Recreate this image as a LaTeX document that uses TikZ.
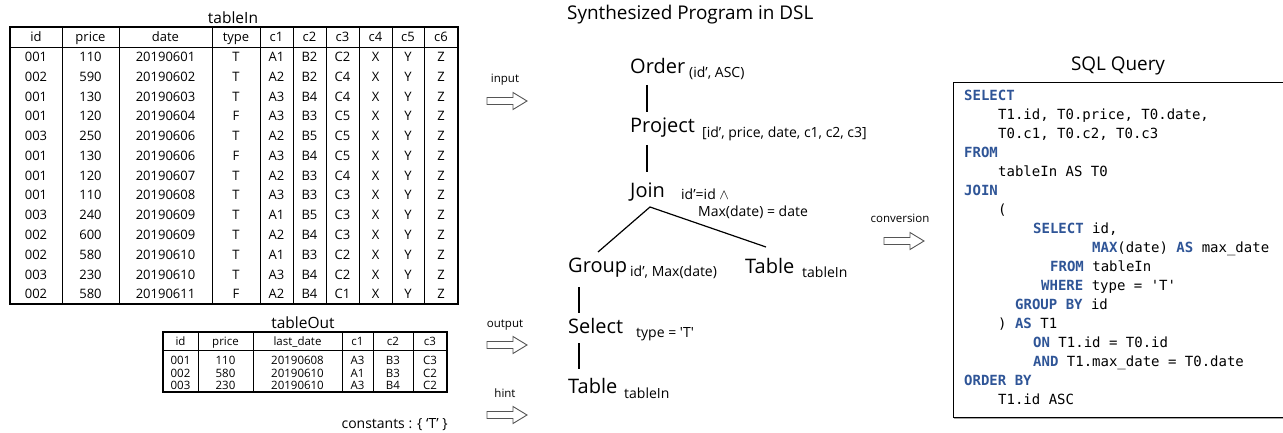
\documentclass[tikz,border=0pt]{standalone}
\usepackage{fontspec}
\setmainfont{Open Sans}
\setmonofont{DejaVu Sans Mono}
\usetikzlibrary{calc}
\definecolor{kw}{RGB}{47,85,151}
\definecolor{arrowgray}{RGB}{85,85,85}
\newcommand{\sqlkw}[1]{\textcolor{kw}{\textbf{#1}}}
\tikzset{
  tborder/.style={line width=1.2pt},
  tline/.style={line width=0.8pt},
  cellin/.style={inner sep=0pt, font=\fontsize{13}{15}\selectfont, text height=9.3pt, text depth=0pt},
  cellout/.style={inner sep=0pt, font=\fontsize{11.5}{13}\selectfont, text height=8.2pt, text depth=0pt},
  ttitle/.style={inner sep=0pt, font=\fontsize{15.5}{18}\selectfont},
  opname/.style={anchor=base west, inner sep=0pt, font=\fontsize{20}{23}\selectfont},
  oparg/.style={anchor=base west, inner sep=0pt, font=\fontsize{14}{16}\selectfont},
  treeline/.style={line width=1.6pt},
  branch/.style={line width=1.2pt},
  lbl/.style={inner sep=0pt, font=\fontsize{11.5}{13}\selectfont},
  codeline/.style={anchor=base west, inner sep=0pt, font=\ttfamily\fontsize{14}{16}\selectfont},
  bigtitle/.style={inner sep=0pt, font=\fontsize{18.9}{21}\selectfont},
  pics/blockarrow/.style={code={\draw[line width=0.9pt, draw=arrowgray, fill=white]
     (0,-3.5) -- (26,-3.5) -- (26,-8.5) -- (40,0) -- (26,8.5) -- (26,3.5) -- (0,3.5) -- cycle;}},
}
\begin{document}
\begin{tikzpicture}[x=1pt,y=-1pt]
\useasboundingbox (0,0) rectangle (1283,433);

% ---------------- tableIn ----------------
\node[ttitle] (tinTitle) at (233,18) {tableIn};
\draw[tline] (10,47) -- (458,47);
\foreach \x in {62,119,212,260,293,326,359,392,424} \draw[tline] (\x,27) -- (\x,304);
\draw[tborder] (10,27) rectangle (458,304);
\foreach \t/\x [count=\i] in {id/36,price/90.5,date/165.5,type/236,c1/276.5,c2/309.5,c3/342.5,c4/375.5,c5/408,c6/441}
  \node[cellin] (tinH\i) at (\x,37) {\t};
\foreach \ca/\cb/\cc/\cd/\ce/\cf/\cg [count=\r] in {
  001/110/20190601/T/A1/B2/C2,
  002/590/20190602/T/A2/B2/C4,
  001/130/20190603/T/A3/B4/C4,
  001/120/20190604/F/A3/B3/C5,
  003/250/20190606/T/A2/B5/C5,
  001/130/20190606/F/A3/B4/C5,
  001/120/20190607/T/A2/B3/C4,
  001/110/20190608/T/A3/B3/C3,
  003/240/20190609/T/A1/B5/C3,
  002/600/20190609/T/A2/B4/C3,
  002/580/20190610/T/A1/B3/C2,
  003/230/20190610/T/A3/B4/C2,
  002/580/20190611/F/A2/B4/C1}{
  \pgfmathsetmacro{\yy}{47+19.77*(\r-0.5)}
  \node[cellin] (tin-\r-1) at (36,\yy) {\ca};
  \node[cellin] (tin-\r-2) at (90.5,\yy) {\cb};
  \node[cellin] (tin-\r-3) at (165.5,\yy) {\cc};
  \node[cellin] (tin-\r-4) at (236,\yy) {\cd};
  \node[cellin] (tin-\r-5) at (276.5,\yy) {\ce};
  \node[cellin] (tin-\r-6) at (309.5,\yy) {\cf};
  \node[cellin] (tin-\r-7) at (342.5,\yy) {\cg};
  \node[cellin] (tin-\r-8) at (375.5,\yy) {X};
  \node[cellin] (tin-\r-9) at (408,\yy) {Y};
  \node[cellin] (tin-\r-10) at (441,\yy) {Z};
}

% ---------------- tableOut ----------------
\node[ttitle] (toutTitle) at (303,323) {tableOut};
\draw[tline] (163,350) -- (447,350);
\foreach \x in {198,253,342,373,413} \draw[tline] (\x,332) -- (\x,392);
\draw[tborder] (163,332) rectangle (447,392);
\foreach \t/\x [count=\i] in {id/180.5,price/225.5,last\_date/297.5,c1/357.5,c2/393,c3/430}
  \node[cellout] (toutH\i) at (\x,341) {\t};
\foreach \ca/\cb/\cc/\cd/\ce/\cf [count=\r] in {
  001/110/20190608/A3/B3/C3,
  002/580/20190610/A1/B3/C2,
  003/230/20190610/A3/B4/C2}{
  \pgfmathsetmacro{\yy}{348.5+12.3*\r}
  \node[cellout] (tout-\r-1) at (180.5,\yy) {\ca};
  \node[cellout] (tout-\r-2) at (225.5,\yy) {\cb};
  \node[cellout] (tout-\r-3) at (297.5,\yy) {\cc};
  \node[cellout] (tout-\r-4) at (357.5,\yy) {\cd};
  \node[cellout] (tout-\r-5) at (393,\yy) {\ce};
  \node[cellout] (tout-\r-6) at (430,\yy) {\cf};
}
\node[anchor=east, inner sep=0pt, font=\fontsize{14}{16}\selectfont] (consts) at (448,425) {constants : \{ ‘T’ \}};

% ---------------- arrows ----------------
\node[lbl] (inLbl) at (505,80) {input};
\pic (inArrow) at (487,101) {blockarrow};
\node[lbl] (outLbl) at (505,325) {output};
\pic (outArrow) at (487,345) {blockarrow};
\node[lbl] (hintLbl) at (505,393) {hint};
\pic (hintArrow) at (487,415) {blockarrow};
\node[lbl] (convLbl) at (900,218) {conversion};
\pic (convArrow) at (884,241) {blockarrow};

% ---------------- DSL tree ----------------
\node[bigtitle, anchor=west] (dslTitle) at (567,15) {Synthesized Program in DSL};
\node[opname] (order) at (630,74) {Order};
\node[oparg] (orderarg) at (689,78) {(id’, ASC)};
\node[opname] (project) at (630,133) {Project};
\node[oparg] (projarg) at (702,137.5) {[id’, price, date, c1, c2, c3]};
\node[opname] (join) at (630,197.5) {Join};
\node[oparg] (joinarg1) at (681,200) {id’=id $\land$};
\node[oparg] (joinarg2) at (698,216) {Max(date) = date};
\node[opname] (group) at (568,272) {Group};
\node[oparg] (grouparg) at (630,276) {id’, Max(date)};
\node[opname] (tableR) at (745,273) {Table};
\node[oparg] (tableRarg) at (802,277) {tableIn};
\node[opname] (select) at (568,333) {Select};
\node[oparg] (selectarg) at (636,337) {type = \textquotesingle T\textquotesingle};
\node[opname] (tableL) at (568,393) {Table};
\node[oparg] (tableLarg) at (624,398) {tableIn};

\draw[treeline] ($(order.base west)+(17,11)$) -- ($(project.base west)+(17,-21)$);
\draw[treeline] ($(project.base west)+(17,12)$) -- ($(join.base west)+(17,-25.5)$);
\coordinate (apex) at ($(join.base west)+(20,9.5)$);
\draw[branch] ($(group.base west)+(30,-20)$) -- (apex) -- ($(tableR.base west)+(21,-26)$);
\draw[treeline] ($(group.base west)+(11,15)$) -- ($(select.base west)+(11,-20)$);
\draw[treeline] ($(select.base west)+(11,10)$) -- ($(tableL.base west)+(11,-24)$);

% ---------------- SQL ----------------
\node[bigtitle] (sqlTitle) at (1118,66) {SQL Query};
\draw[line width=1.6pt, gray!70] (954,418) -- (1295,418);
\draw[line width=0.9pt] (953,82) rectangle (1295,417);
\node[codeline] (q0) at (964,101) {\sqlkw{SELECT}};
\node[codeline] (q1) at (998,119.9) {T1.id, T0.price, T0.date,};
\node[codeline] (q2) at (998,138.9) {T0.c1, T0.c2, T0.c3};
\node[codeline] (q3) at (964,157.8) {\sqlkw{FROM}};
\node[codeline] (q4) at (998,176.8) {tableIn AS T0};
\node[codeline] (q5) at (964,195.7) {\sqlkw{JOIN}};
\node[codeline] (q6) at (998,214.6) {(};
\node[codeline] (q7) at (1033,233.6) {\sqlkw{SELECT} id,};
\node[codeline] (q8) at (1092,252.5) {\sqlkw{MAX}(date) \sqlkw{AS} max\_date};
\node[codeline] (q9) at (1050,271.5) {\sqlkw{FROM} tableIn};
\node[codeline] (q10) at (1041,290.4) {\sqlkw{WHERE} type = 'T'};
\node[codeline] (q11) at (1015,309.3) {\sqlkw{GROUP BY} id};
\node[codeline] (q12) at (998,328.3) {) \sqlkw{AS} T1};
\node[codeline] (q13) at (1033,347.2) {\sqlkw{ON} T1.id = T0.id};
\node[codeline] (q14) at (1033,366.2) {\sqlkw{AND} T1.max\_date = T0.date};
\node[codeline] (q15) at (964,385.1) {\sqlkw{ORDER BY}};
\node[codeline] (q16) at (998,404) {T1.id ASC};
\end{tikzpicture}
\end{document}
